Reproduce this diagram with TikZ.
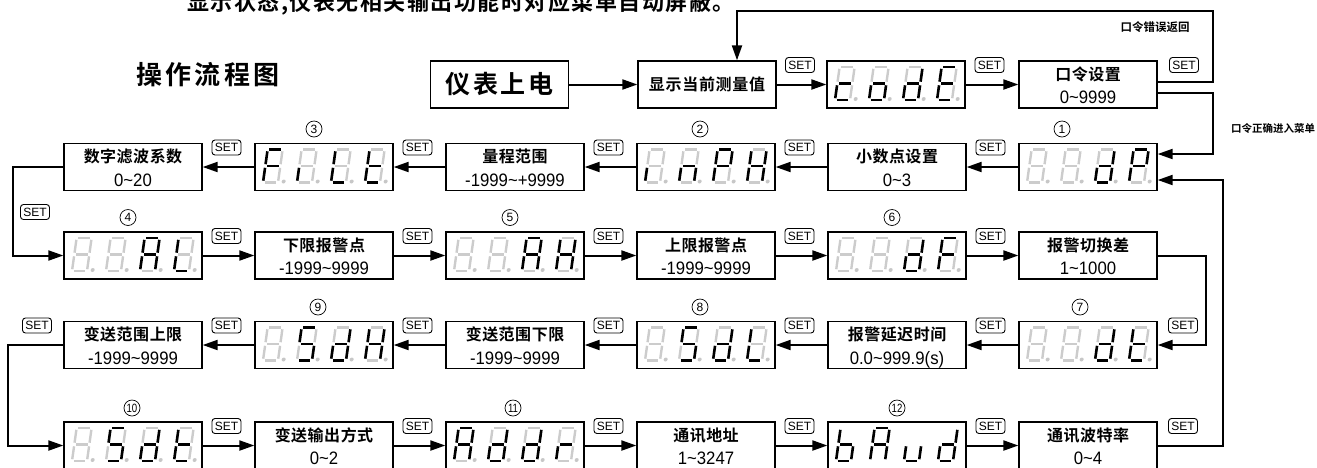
\documentclass[tikz,border=0pt]{standalone}
\usepackage{fontspec}
\usepackage{graphicx}
\setmainfont{Liberation Sans}
\newfontfamily\cjk{Noto Sans CJK SC}[BoldFont={* Bold}]
\usetikzlibrary{arrows.meta,calc}

\newcommand\lskern{0pt}
\newcommand\ls[2]{\renewcommand\lskern{#1}\lsloop#2\relax\kern-\lskern}
\newcommand\lsloop[1]{\ifx#1\relax\else#1\kern\lskern\relax\expandafter\lsloop\fi}
\newcommand\nm[1]{\scalebox{0.93}[1]{#1}}

\newif\ifsegbg \segbgtrue
\newcommand\sg[2]{\ifnum#1=1 \draw[segon] #2;\else\ifsegbg\draw[segoff] #2;\fi\fi}
\def\segsi#1#2#3#4#5#6#7\relax{%
 \sg{#1}{(1.8,-33)--(13.2,-33)}%
 \sg{#2}{(15,-31.2)--(15,-18.3)}%
 \sg{#3}{(15,-14.7)--(15,-1.8)}%
 \sg{#4}{(1.8,0)--(13.2,0)}%
 \sg{#5}{(0,-14.7)--(0,-1.8)}%
 \sg{#6}{(0,-31.2)--(0,-18.3)}%
 \sg{#7}{(1.8,-16.5)--(13.2,-16.5)}}
\newcommand\dg[3]{\begin{scope}[shift={(#1,#2)},xslant=0.14]\segsi#3\relax
  \ifsegbg\fill[black!22] (20.5,-1) circle (2);\fi\end{scope}}
\newcommand\dsp[7]{%
 \node[pbox] (#1) at (#2,#3) {};
 \dg{#2-61}{#3+15.5}{#4}\dg{#2-27}{#3+15.5}{#5}\dg{#2+7}{#3+15.5}{#6}\dg{#2+41}{#3+15.5}{#7}}
\newcommand\pb[5]{%
 \node[pbox] (#1) at (#2,#3) {};
 \node[ttl] (#1-t) at ($(#1.north)+(0,14)$) {\ls{0.5pt}{#4}};
 \node[val] (#1-v) at ($(#1.north)+(0,43.5)$) {\nm{#5}};}

\begin{document}
\begin{tikzpicture}[x=1pt,y=-1pt,
  pbox/.style={draw,line width=1.3pt,minimum width=138pt,minimum height=47pt,inner sep=0pt},
  conn/.style={line width=2pt,-{Triangle[length=15pt,width=10pt]}},
  setl/.style={draw,line width=0.9pt,rounded corners=3pt,minimum width=29pt,minimum height=15pt,inner sep=0pt,font=\fontsize{12}{12}\selectfont},
  cnum/.style={draw,circle,line width=0.7pt,minimum size=16pt,inner sep=0pt,font=\fontsize{12}{12}\selectfont},
  ttl/.style={inner sep=0pt,font=\cjk\bfseries\fontsize{16}{16}\selectfont},
  val/.style={inner sep=0pt,anchor=base,font=\fontsize{18}{18}\selectfont},
  segon/.style={line width=2.6pt,black},
  segoff/.style={line width=2.4pt,black!20},
]
\useasboundingbox (0,0) rectangle (1317,467);

% headings
\node[anchor=base west,inner sep=0pt,font=\cjk\bfseries\fontsize{22}{22}\selectfont] (note) at (187,10) {\ls{1.5pt}{显示状态,仪表无相关输出功能时对应菜单自动屏蔽。}};
\node[inner sep=0pt,font=\cjk\bfseries\fontsize{26}{26}\selectfont] (title) at (208,75) {\ls{3.5pt}{操作流程图}};

% row 1
\node[pbox,font=\cjk\bfseries\fontsize{25}{25}\selectfont] (pwr) at (499.5,84.5) {\ls{2.5pt}{仪表上电}};
\node[pbox,ttl] (show) at (707,84.5) {\ls{0.7pt}{显示当前测量值}};
\dsp{code}{896}{84.5}{0001101}{0011101}{0111101}{1001111}
\pb{pwd}{1088}{84.5}{口令设置}{0\textasciitilde9999}

% row 2
\pb{fil}{133}{167}{数字滤波系数}{0\textasciitilde20}
\dsp{dFIL}{324}{167}{1000111}{0000100}{0001110}{0001111}
\pb{rng}{515}{167}{量程范围}{-1999\textasciitilde+9999}
\dsp{dINP}{706}{167}{0000100}{0010101}{1100111}{0110111}
\pb{dpt}{897}{167}{小数点设置}{0\textasciitilde3}
\dsp{dDP}{1088}{167}{0000000}{0000000}{0111101}{1100111}

% row 3
\dsp{dAL}{133}{255.5}{0000000}{0000000}{1110111}{0001110}
\pb{alo}{324}{255.5}{下限报警点}{-1999\textasciitilde9999}
\dsp{dAH}{515}{255.5}{0000000}{0000000}{1110111}{0110111}
\pb{ahi}{706}{255.5}{上限报警点}{-1999\textasciitilde9999}
\dsp{dDF}{897}{255.5}{0000000}{0000000}{0111101}{1000111}
\pb{hys}{1088}{255.5}{报警切换差}{1\textasciitilde1000}

% row 4
\pb{tup}{133}{345}{变送范围上限}{-1999\textasciitilde9999}
\dsp{dSDH}{324}{345}{0000000}{1011011}{0111101}{0110111}
\pb{tlo}{515}{345}{变送范围下限}{-1999\textasciitilde9999}
\dsp{dSDL}{706}{345}{0000000}{1011011}{0111101}{0001110}
\pb{dly}{897}{345}{报警延迟时间}{0.0\textasciitilde999.9(s)}
\dsp{dDT}{1088}{345}{0000000}{0000000}{0111101}{0001111}

% row 5
\dsp{dSDT}{133}{445.5}{0000000}{1011011}{0111101}{0001111}
\pb{tmode}{324}{445.5}{变送输出方式}{0\textasciitilde2}
\dsp{dADR}{515}{445.5}{1110111}{0111101}{0111101}{0000101}
\pb{addr}{706}{445.5}{通讯地址}{1\textasciitilde3247}
\segbgfalse
\dsp{dBAUD}{897}{445.5}{0011111}{1110111}{0011100}{0111101}
\segbgtrue
\pb{baud}{1088}{445.5}{通讯波特率}{0\textasciitilde4}

% connectors
\draw[conn] (pwr.east) -- (show.west);
\draw[conn] (show.east) -- (code.west);
\draw[conn] (code.east) -- (pwd.west);
\draw[conn] (dDP.west) -- (dpt.east);
\draw[conn] (dpt.west) -- (dINP.east);
\draw[conn] (dINP.west) -- (rng.east);
\draw[conn] (rng.west) -- (dFIL.east);
\draw[conn] (dFIL.west) -- (fil.east);
\draw[conn] (dAL.east) -- (alo.west);
\draw[conn] (alo.east) -- (dAH.west);
\draw[conn] (dAH.east) -- (ahi.west);
\draw[conn] (ahi.east) -- (dDF.west);
\draw[conn] (dDF.east) -- (hys.west);
\draw[conn] (dDT.west) -- (dly.east);
\draw[conn] (dly.west) -- (dSDL.east);
\draw[conn] (dSDL.west) -- (tlo.east);
\draw[conn] (tlo.west) -- (dSDH.east);
\draw[conn] (dSDH.west) -- (tup.east);
\draw[conn] (dSDT.east) -- (tmode.west);
\draw[conn] (tmode.east) -- (dADR.west);
\draw[conn] (dADR.east) -- (addr.west);
\draw[conn] (addr.east) -- (dBAUD.west);
\draw[conn] (dBAUD.east) -- (baud.west);

\coordinate (tr) at (1213,11);
\coordinate (r1) at (1213,154);
\coordinate (r3) at (1223,180);
\coordinate (r2) at (1206,345);
\coordinate (l1) at (13,255.5);
\coordinate (l2) at (8,445.5);
\draw[conn] ([yshift=2.5pt]pwd.east) -| (tr) -| ([xshift=30pt]show.north);
\draw[conn] ([yshift=-8.5pt]pwd.east) -| (r1) -- ([yshift=13pt]dDP.east);
\draw[conn] (baud.east) -| (r3) -- ([yshift=-13pt]dDP.east);
\draw[conn] (fil.west) -| (l1) -- (dAL.west);
\draw[conn] (hys.east) -| (r2) -- (dDT.east);
\draw[conn] (tup.west) -| (l2) -- (dSDT.west);

\node[inner sep=0pt,font=\cjk\bfseries\fontsize{11.5}{11.5}\selectfont] (errt) at (1155,27) {口令错误返回};
\node[inner sep=0pt,font=\cjk\bfseries\fontsize{10.5}{10.5}\selectfont] (okt) at (1273,128) {口令正确进入菜单};

% SET labels
\node[setl] (s1a) at (800,65) {SET};
\node[setl] (s1b) at (989.5,65) {SET};
\node[setl] (s1c) at (1184,65) {SET};
\foreach \xx [count=\i] in {226.5,417.5,608.5,799.5,990.5} {
  \node[setl] (s2-\i) at (\xx,147.5) {SET};
  \node[setl] (s3-\i) at (\xx,236) {SET};
  \node[setl] (s4-\i) at (\xx,325.5) {SET};
  \node[setl] (s5-\i) at (\xx,426) {SET};
}
\node[setl] (sL1) at (35,212) {SET};
\node[setl] (sL2) at (37,325.5) {SET};
\node[setl] (sR4) at (1183,325.5) {SET};
\node[setl] (sR5) at (1183,426) {SET};

% step numbers
\node[cnum] (n3) at (314,129) {3};
\node[cnum] (n2) at (700,129) {2};
\node[cnum] (n1) at (1062,129) {1};
\node[cnum] (n4) at (128,217.5) {4};
\node[cnum] (n5) at (510,217.5) {5};
\node[cnum] (n6) at (892,217.5) {6};
\node[cnum] (n9) at (318,307) {9};
\node[cnum] (n8) at (700,307) {8};
\node[cnum] (n7) at (1080,307) {7};
\node[cnum] (n10) at (132,408) {\scalebox{0.8}[1]{10}};
\node[cnum] (n11) at (513,408) {\scalebox{0.8}[1]{11}};
\node[cnum] (n12) at (897,408) {\scalebox{0.8}[1]{12}};
\end{tikzpicture}
\end{document}
